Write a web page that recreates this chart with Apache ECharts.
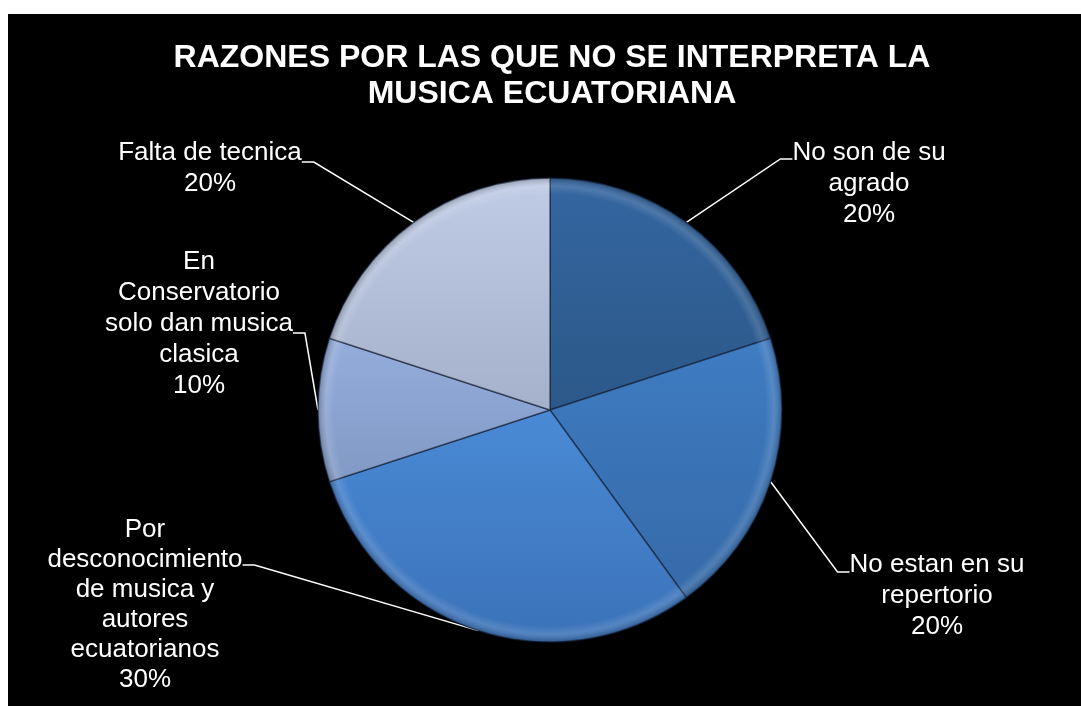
<!DOCTYPE html>
<html>
<head>
<meta charset="utf-8">
<script src="https://cdn.jsdelivr.net/npm/echarts@6/dist/echarts.min.js"></script>
<style>
  html, body { margin: 0; padding: 0; background: #ffffff; width: 1081px; height: 706px; overflow: hidden; }
  #chart { position: absolute; left: 8px; top: 14px; width: 1073px; height: 692px; background: #000000; }
</style>
</head>
<body>
<div id="chart"></div>
<script>
// ---- data ----
const titleText = 'RAZONES POR LAS QUE NO SE INTERPRETA LA\nMUSICA ECUATORIANA';
const categories = [
  'No son de su\nagrado',
  'No estan en su\nrepertorio',
  'Por\ndesconocimiento\nde musica y\nautores\necuatorianos',
  'En\nConservatorio\nsolo dan musica\nclasica',
  'Falta de tecnica'
];
const values = [20, 20, 30, 10, 20];
// which text line of each label the leader line attaches to
const anchorLine = [0, 0, 1, 2, 0];
const colorsTop = ['#3466a0', '#3f7cc2', '#4a8ad6', '#94addc', '#c0cce6'];
const colorsBottom = ['#2c5889', '#356aa8', '#3b72b8', '#8199c4', '#a5b1cb'];
// label centers and leader-line attach heights (chart pixel coords)
const labelPos = [[861, 170], [929, 582], [137, 591], [191, 310], [202, 154]];
const anchorPos = [[861, 145], [929, 558], [137, 551], [191, 319], [202, 148]];

const CX = 542, CY = 396, R = 232;
const font = 'Liberation Sans, Arial, sans-serif';

const chart = echarts.init(document.getElementById('chart'));

const baseData = categories.map((c, i) => ({
  name: c,
  value: values[i],
  itemStyle: {
    color: {
      type: 'linear', x: 0, y: 0, x2: 0, y2: 1,
      colorStops: [{ offset: 0, color: colorsTop[i] }, { offset: 1, color: colorsBottom[i] }]
    }
  }
}));

const overlayData = categories.map((c, i) => ({
  name: c,
  value: values[i],
  label: i === 2 ? { lineHeight: 30 } : undefined
}));

chart.setOption({
  backgroundColor: '#000000',
  animation: false,
  title: {
    text: titleText,
    left: 539,
    top: 21,
    textAlign: 'center',
    textStyle: {
      color: '#ffffff',
      fontSize: 32,
      fontWeight: 'bold',
      fontFamily: font,
      lineHeight: 36
    }
  },
  series: [
    {
      // sectors + leader lines (anchored to an invisible copy of one text line)
      type: 'pie',
      center: [CX, CY],
      radius: R,
      startAngle: 90,
      clockwise: true,
      percentPrecision: 0,
      data: baseData,
      itemStyle: { borderColor: 'rgba(20,30,50,0.6)', borderWidth: 1.5 },
      label: {
        show: true,
        formatter: function (p) { return categories[p.dataIndex].split('\n')[anchorLine[p.dataIndex]]; },
        color: 'rgba(0,0,0,0)',
        fontSize: 26,
        fontFamily: font
      },
      labelLine: {
        show: true,
        length: 20,
        length2: 12,
        lineStyle: { color: '#ffffff', width: 1.5 }
      },
      labelLayout: function (params) {
        const p = anchorPos[params.dataIndex];
        return { x: p[0], y: p[1], align: 'center', verticalAlign: 'middle' };
      },
      emphasis: { disabled: true }
    },
    {
      // bevel shading overlay + visible labels
      type: 'pie',
      center: [CX, CY],
      radius: R,
      startAngle: 90,
      clockwise: true,
      percentPrecision: 0,
      silent: true,
      data: overlayData,
      itemStyle: {
        color: {
          type: 'radial', x: CX, y: CY, r: R, global: true,
          colorStops: [
            { offset: 0, color: 'rgba(255,255,255,0)' },
            { offset: 0.93, color: 'rgba(255,255,255,0)' },
            { offset: 0.965, color: 'rgba(255,255,255,0.13)' },
            { offset: 1, color: 'rgba(0,0,0,0.22)' }
          ]
        },
        borderWidth: 0
      },
      label: {
        show: true,
        formatter: '{b}\n{d}%',
        color: '#ffffff',
        fontSize: 26,
        lineHeight: 31,
        fontFamily: font
      },
      labelLine: { show: false },
      labelLayout: function (params) {
        const p = labelPos[params.dataIndex];
        return { x: p[0], y: p[1], align: 'center', verticalAlign: 'middle' };
      },
      emphasis: { disabled: true }
    }
  ]
});
</script>
</body>
</html>
